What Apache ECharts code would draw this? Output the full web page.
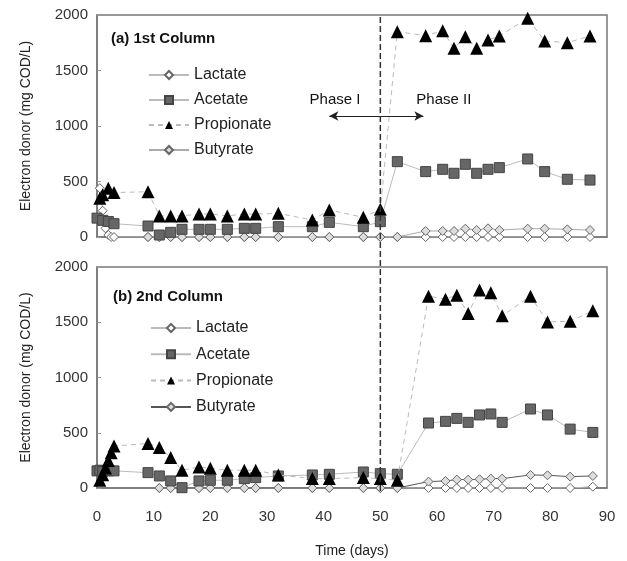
<!DOCTYPE html>
<html><head><meta charset="utf-8">
<script src="https://cdn.jsdelivr.net/npm/echarts@6/dist/echarts.min.js"></script>
<style>html,body{margin:0;padding:0;background:#fff}#c{width:627px;height:561px}</style>
</head><body><div id="c"></div>
<script>
// ---- Data ----
var seriesNames = ['Lactate', 'Acetate', 'Propionate', 'Butyrate'];
var xTicks = [0, 10, 20, 30, 40, 50, 60, 70, 80, 90];
var yTicks = [0, 500, 1000, 1500, 2000];

// (a) 1st Column
var lactA_days = [0.5, 1, 1.5, 2, 2.5, 3, 9, 11, 13, 15, 18, 20, 23, 26, 28, 32, 38, 41, 47, 50, 53, 58, 61, 63, 65, 67, 69, 71, 76, 79, 83, 87];
var lactA_vals = [440, 237, 78, 18, 0, 0, 0, 0, 0, 0, 0, 0, 0, 0, 0, 0, 0, 0, 0, 0, 0, 0, 0, 0, 0, 0, 0, 0, 0, 0, 0, 0];
var acetA_days = [0, 1, 2, 3, 9, 11, 13, 15, 18, 20, 23, 26, 28, 32, 38, 41, 47, 50, 53, 58, 61, 63, 65, 67, 69, 71, 76, 79, 83, 87];
var acetA_vals = [170, 150, 140, 120, 99, 18, 42, 69, 69, 69, 69, 78, 78, 93, 93, 132, 93, 138, 679, 589, 610, 574, 655, 574, 610, 625, 703, 589, 520, 513];
var propA_days = [0.5, 1, 2, 3, 9, 11, 13, 15, 18, 20, 23, 26, 28, 32, 38, 41, 47, 50, 53, 58, 61, 63, 65, 67, 69, 71, 76, 79, 83, 87];
var propA_vals = [350, 380, 440, 400, 408, 190, 190, 190, 207, 207, 190, 207, 207, 213, 153, 243, 177, 249, 1850, 1814, 1859, 1700, 1805, 1700, 1775, 1811, 1970, 1766, 1751, 1811];
var butA_days = [9, 11, 13, 15, 18, 20, 23, 26, 28, 32, 38, 41, 47, 50, 53, 58, 61, 63, 65, 67, 69, 71, 76, 79, 83, 87];
var butA_vals = [0, 0, 0, 0, 0, 0, 0, 0, 0, 0, 0, 0, 0, 0, 0, 54, 54, 54, 75, 63, 78, 63, 75, 75, 69, 63];

// (b) 2nd Column
var lactB_days = [11, 13, 15, 18, 20, 23, 26, 28, 32, 38, 41, 47, 50, 53, 58.5, 61.5, 63.5, 65.5, 67.5, 69.5, 71.5, 76.5, 79.5, 83.5, 87.5];
var lactB_vals = [0, 0, 0, 0, 0, 0, 0, 0, 0, 0, 0, 0, 0, 0, 0, 0, 0, 0, 0, 0, 0, 0, 0, 0, 12];
var acetB_days = [0, 0.5, 1, 2, 3, 9, 11, 13, 15, 18, 20, 23, 26, 28, 32, 38, 41, 47, 50, 53, 58.5, 61.5, 63.5, 65.5, 67.5, 69.5, 71.5, 76.5, 79.5, 83.5, 87.5];
var acetB_vals = [155, 161, 150, 155, 155, 139, 109, 64, 3, 64, 70, 70, 85, 94, 109, 118, 124, 145, 130, 124, 588, 603, 630, 594, 661, 670, 594, 715, 661, 533, 503];
var propB_days = [0.5, 1, 1.5, 2, 2.5, 3, 9, 11, 13, 15, 18, 20, 23, 26, 28, 32, 38, 41, 47, 50, 53, 58.5, 61.5, 63.5, 65.5, 67.5, 69.5, 71.5, 76.5, 79.5, 83.5, 87.5];
var propB_vals = [70, 120, 180, 250, 320, 380, 403, 367, 276, 161, 191, 179, 161, 161, 161, 118, 85, 85, 94, 85, 70, 1736, 1709, 1745, 1579, 1791, 1767, 1558, 1736, 1503, 1509, 1603];
var butB_days = [11, 13, 15, 18, 20, 23, 26, 28, 32, 38, 41, 47, 50, 53, 58.5, 61.5, 63.5, 65.5, 67.5, 69.5, 71.5, 76.5, 79.5, 83.5, 87.5];
var butB_vals = [0, 0, 0, 0, 0, 0, 0, 0, 0, 0, 0, 0, 0, 0, 58, 64, 76, 76, 79, 85, 85, 118, 115, 103, 109];

var phaseBoundary = 50;
var phaseArrow = [[41, 1090], [57.6, 1090]];
var phaseLabels = [{ text: 'Phase I', at: [42, 1240] }, { text: 'Phase II', at: [61.2, 1240] }];
var panelTitles = ['(a) 1st Column', '(b) 2nd Column'];

function zip(d, v) { return d.map(function (x, i) { return [x, v[i]]; }); }

var FONT = 'Liberation Sans, Arial, sans-serif';
var styles = {
  Lactate: { symbol: 'diamond', symbolSize: 9, item: { color: '#fff', borderColor: '#666', borderWidth: 1 }, line: { color: '#bbb', width: 1, type: 'solid' } },
  Acetate: { symbol: 'rect', symbolSize: 10, item: { color: '#666', borderColor: '#444', borderWidth: 1 }, line: { color: '#bbb', width: 1, type: 'solid' } },
  Propionate: { symbol: 'triangle', symbolSize: 13, item: { color: '#000', borderColor: '#000', borderWidth: 0 }, line: { color: '#bbb', width: 1, type: [5, 4] } },
  Butyrate: { symbol: 'diamond', symbolSize: 9, item: { color: '#ddd', borderColor: '#666', borderWidth: 1 }, line: { color: '#aaa', width: 1, type: 'solid' } }
};

function mk(name, key, idx, data, lineOverride) {
  var s = styles[key];
  return {
    type: 'line', name: name, xAxisIndex: idx, yAxisIndex: idx, data: data,
    symbol: s.symbol, symbolSize: s.symbolSize, showAllSymbol: true,
    itemStyle: s.item, lineStyle: Object.assign({}, s.line, lineOverride || {}),
    z: key === 'Propionate' ? 5 : (key === 'Acetate' ? 4 : 3),
    animation: false
  };
}

var series = [
  mk('Lactate', 'Lactate', 0, zip(lactA_days, lactA_vals)),
  mk('Acetate', 'Acetate', 0, zip(acetA_days, acetA_vals)),
  mk('Propionate', 'Propionate', 0, zip(propA_days, propA_vals)),
  mk('Butyrate', 'Butyrate', 0, zip(butA_days, butA_vals)),
  mk('Lactate ', 'Lactate', 1, zip(lactB_days, lactB_vals)),
  mk('Acetate ', 'Acetate', 1, zip(acetB_days, acetB_vals)),
  mk('Propionate ', 'Propionate', 1, zip(propB_days, propB_vals)),
  mk('Butyrate ', 'Butyrate', 1, zip(butB_days, butB_vals), { color: '#555' })
];

// phase annotations on top panel
series.push({
  type: 'line', xAxisIndex: 0, yAxisIndex: 0, data: [], silent: true, animation: false,
  markLine: {
    silent: true, symbol: ['arrow', 'arrow'], symbolSize: [7, 9], label: { show: false },
    lineStyle: { color: '#222', width: 1, type: 'solid' },
    data: [[{ coord: phaseArrow[0] }, { coord: phaseArrow[1] }]]
  },
  markPoint: {
    silent: true, symbol: 'circle', symbolSize: 0,
    label: { show: true, color: '#111', fontSize: 15, fontFamily: FONT, formatter: function (p) { return p.name; } },
    data: phaseLabels.map(function (p) { return { name: p.text, coord: p.at }; })
  }
});

function yAxis(idx) {
  return {
    type: 'value', gridIndex: idx, min: 0, max: 2000, interval: 500,
    name: 'Electron donor (mg COD/L)', nameLocation: 'middle', nameGap: 64, nameRotate: 90,
    nameTextStyle: { fontSize: 14, color: '#222', fontFamily: FONT },
    axisLine: { show: true, lineStyle: { color: '#777', width: 1.5 } },
    axisTick: { show: true, inside: true, length: 4, lineStyle: { color: '#999' } },
    axisLabel: { fontSize: 15, color: '#333', fontFamily: FONT, margin: 9,
      formatter: function (v) { return yTicks.indexOf(v) >= 0 ? String(v) : ''; } },
    splitLine: { show: false }
  };
}
function xAxis(idx, showLabels) {
  return {
    type: 'value', gridIndex: idx, min: 0, max: 90, interval: 10,
    name: showLabels ? 'Time (days)' : '', nameLocation: 'middle', nameGap: 56,
    nameTextStyle: { fontSize: 14, color: '#222', fontFamily: FONT },
    axisLine: { show: true, lineStyle: { color: '#777', width: 1.5 } },
    axisTick: { show: false },
    axisLabel: { show: showLabels, fontSize: 15, color: '#333', fontFamily: FONT, margin: 21,
      formatter: function (v) { return xTicks.indexOf(v) >= 0 ? String(v) : ''; } },
    splitLine: { show: false }
  };
}

var legendText = { fontSize: 16, color: '#222', fontFamily: FONT };
var option = {
  backgroundColor: '#fff',
  animation: false,
  title: [
    { text: panelTitles[0], left: 111, top: 31, padding: 0, textStyle: { fontSize: 15, fontWeight: 'bold', color: '#111', fontFamily: FONT } },
    { text: panelTitles[1], left: 113, top: 289, padding: 0, textStyle: { fontSize: 15, fontWeight: 'bold', color: '#111', fontFamily: FONT } }
  ],
  grid: [
    { left: 97, top: 15, width: 510, height: 222, show: true, borderColor: '#777', borderWidth: 1.5, backgroundColor: 'transparent' },
    { left: 97, top: 267, width: 510, height: 221, show: true, borderColor: '#777', borderWidth: 1.5, backgroundColor: 'transparent' }
  ],
  xAxis: [xAxis(0, false), xAxis(1, true)],
  yAxis: [yAxis(0), yAxis(1)],
  legend: [
    { data: seriesNames, orient: 'vertical', left: 148, top: 67, itemWidth: 40, itemHeight: 10, itemGap: 9, textStyle: legendText, padding: 0,
      formatter: function (n) { return n.trim(); } },
    { data: seriesNames.map(function (n) { return n + ' '; }), orient: 'vertical', left: 150, top: 320, itemWidth: 40, itemHeight: 10, itemGap: 10.3, textStyle: legendText, padding: 0,
      formatter: function (n) { return n.trim(); } }
  ],
  series: series
};

var chart = echarts.init(document.getElementById('c'), null, { renderer: 'canvas' });
chart.setOption(option);

// vertical dashed phase boundary across both panels
var pTop = chart.convertToPixel({ gridIndex: 0 }, [phaseBoundary, 2000]);
var pBot = chart.convertToPixel({ gridIndex: 1 }, [phaseBoundary, 0]);
chart.setOption({
  graphic: [{
    type: 'line', z: 100, silent: true,
    shape: { x1: pTop[0], y1: pTop[1] + 2, x2: pBot[0], y2: pBot[1] + 3 },
    style: { stroke: '#333', lineWidth: 1.5, lineDash: [6, 3] }
  }]
});
</script></body></html>
